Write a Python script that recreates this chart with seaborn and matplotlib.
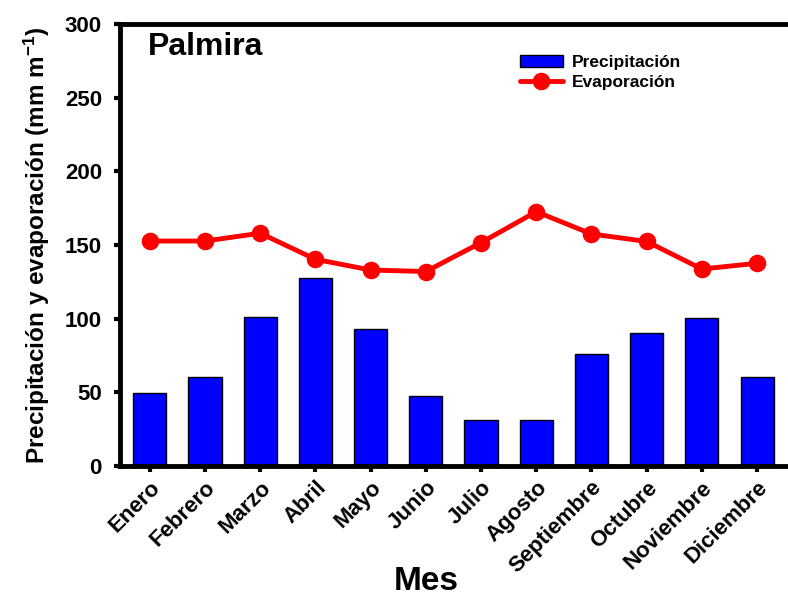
import matplotlib
matplotlib.use("Agg")
import matplotlib.pyplot as plt
import seaborn as sns
import numpy as np
import pandas as pd

meses = ["Enero", "Febrero", "Marzo", "Abril", "Mayo", "Junio", "Julio",
         "Agosto", "Septiembre", "Octubre", "Noviembre", "Diciembre"]
precipitacion = [49.5, 60.6, 101, 127.5, 93.3, 47.2, 31.2, 31.4, 76, 90.6, 100.6, 60.4]
evaporacion = [152.7, 152.7, 158, 140.3, 133, 132, 151.6, 172.6, 157.5, 152.4, 133.7, 137.6]
yticks = [0, 50, 100, 150, 200, 250, 300]

sns.set_style("white")
plt.rcParams['font.family'] = ['Liberation Sans', 'DejaVu Sans']
plt.rcParams['font.weight'] = 'bold'
plt.rcParams['text.color'] = 'black'
plt.rcParams['axes.labelcolor'] = 'black'
plt.rcParams['xtick.color'] = 'black'
plt.rcParams['ytick.color'] = 'black'
plt.rcParams['mathtext.fontset'] = 'custom'
plt.rcParams['mathtext.bf'] = 'Liberation Sans:bold'
plt.rcParams['mathtext.rm'] = 'Liberation Sans:bold'
plt.rcParams['mathtext.default'] = 'bf'

df = pd.DataFrame({"Mes": meses, "Precipitacion": precipitacion, "Evaporacion": evaporacion})

fig = plt.figure(figsize=(7.88, 5.98), dpi=100)
ax = fig.add_axes([120/788, 1-466/598, 1-120/788, (466-24)/598])

sns.barplot(data=df, x="Mes", y="Precipitacion", color="#0000FF", saturation=1,
            edgecolor="black", linewidth=1.0, width=0.6, ax=ax, label="Precipitación")
sns.pointplot(data=df, x="Mes", y="Evaporacion", color="#FF0000", markers="o",
              markersize=10, linewidth=3.5, ax=ax, label="Evaporación")

ax.set_xlim(-0.54, 11.56)
ax.set_ylim(0, 300)
ax.set_yticks(yticks)
ax.set_yticklabels([str(v) for v in yticks], fontsize=16, fontweight='bold', color='black')
ax.set_xticks(range(len(meses)))
ax.set_xticklabels(meses, rotation=45, ha='right', rotation_mode='anchor',
                   fontsize=16, fontweight='bold', color='black')

for s in ['left', 'bottom', 'top']:
    ax.spines[s].set_linewidth(3.5)
    ax.spines[s].set_color('black')
ax.spines['right'].set_visible(False)
ax.tick_params(axis='both', which='both', direction='out', length=4, width=3,
               color='black', left=True, bottom=True)
ax.tick_params(axis='y', pad=9)
ax.tick_params(axis='x', pad=4)

ax.set_ylabel("Precipitación y evaporación (mm m$^{-1}$)", fontsize=17.5,
              fontweight='bold', labelpad=9, color='black')
ax.set_xlabel("")
fig.text(426.5/788, 1-597/598, "Mes", fontsize=24, fontweight='bold',
         ha='center', va='bottom', color='black')

ax.text(0.042, 0.982, "Palmira", transform=ax.transAxes, fontsize=23,
        fontweight='bold', va='top', ha='left', color='black')

handles, labels = ax.get_legend_handles_labels()
order = [labels.index("Precipitación"), labels.index("Evaporación")]
leg = ax.legend([handles[i] for i in order], [labels[i] for i in order],
                loc='upper left', bbox_to_anchor=(0.575, 0.965), frameon=False,
                prop={'weight': 'bold', 'size': 12.5}, handlelength=2.5,
                handletextpad=0.5, labelspacing=0.25)

fig.savefig("out.png", dpi=100)
